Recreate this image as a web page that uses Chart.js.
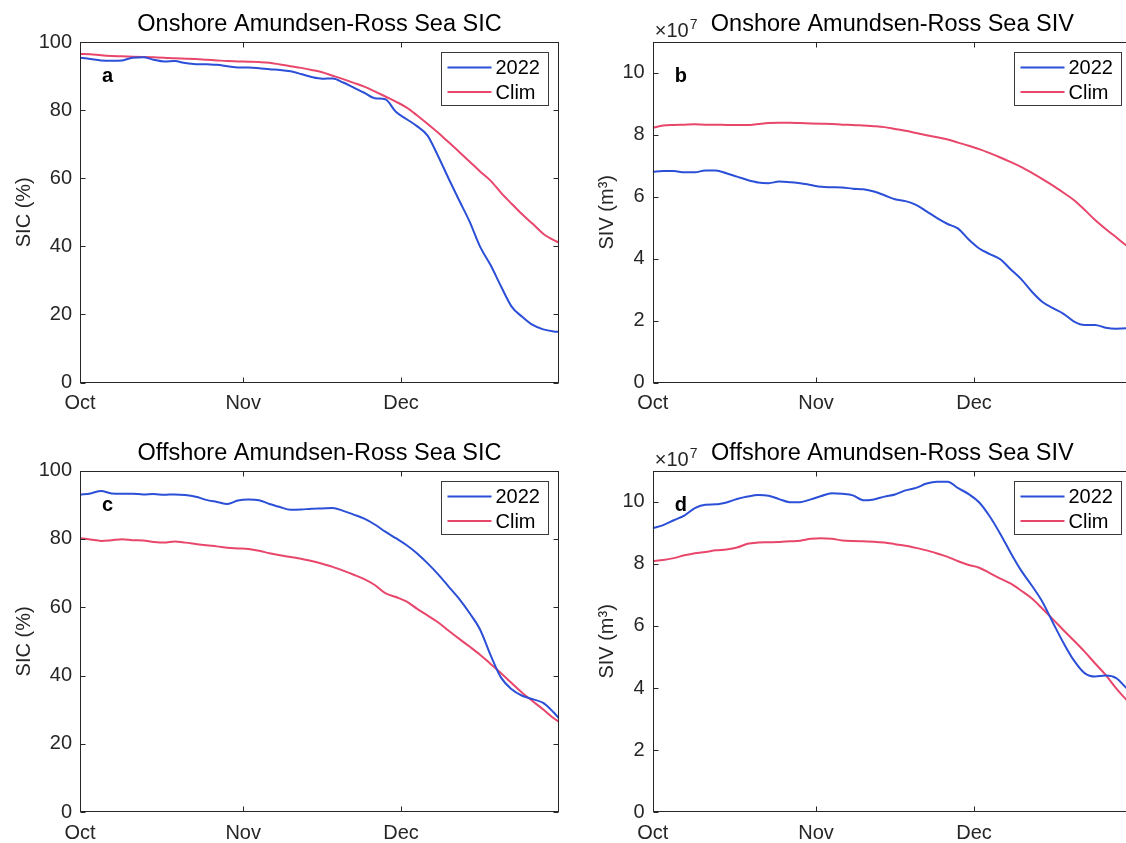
<!DOCTYPE html>
<html>
<head>
<meta charset="utf-8">
<script src="https://cdn.jsdelivr.net/npm/chart.js@4.4.1/dist/chart.umd.min.js"></script>
<style>
  html, body { margin: 0; padding: 0; background: #fff; }
  body { width: 1126px; height: 843px; overflow: hidden; position: relative; }
  canvas { position: absolute; }
</style>
</head>
<body>
<canvas id="panelA" width="570" height="440" style="left:0;top:0"></canvas>
<canvas id="panelB" width="570" height="440" style="left:570px;top:0"></canvas>
<canvas id="panelC" width="570" height="440" style="left:0;top:425px"></canvas>
<canvas id="panelD" width="570" height="440" style="left:570px;top:425px"></canvas>
<script>
// day index from 1 Oct (0) to 31 Dec (91)
const days = [0, 2, 4, 6, 8, 10, 12, 14, 16, 18, 20, 22, 24, 26, 28, 30, 32, 34, 36, 38, 40, 42, 44,
  46, 48, 50, 52, 54, 56, 58, 60, 62, 64, 66, 68, 70, 72, 74, 76, 78, 80, 82, 84, 86, 88, 90, 91];
const monthTicks = [0, 31, 61];
const monthLabels = ['Oct', 'Nov', 'Dec'];
const sicTicks = [0, 20, 40, 60, 80, 100];
const sivTicks = [0, 2, 4, 6, 8, 10];
const seriesNames = ['2022', 'Clim'];

// a: onshore SIC (%)
const onshoreSic2022 = [95.4, 95.0, 94.6, 94.5, 94.6, 95.4, 95.5, 94.8, 94.3, 94.4, 93.8, 93.5, 93.5,
  93.3, 92.9, 92.5, 92.5, 92.3, 92.0, 91.8, 91.4, 90.6, 89.7, 89.2, 89.3, 88.1, 86.6, 85.1, 83.5,
  83.2, 79.5, 77.4, 75.3, 72.6, 66.6, 60.0, 53.6, 47.3, 39.9, 34.5, 28.2, 22.3, 19.3, 16.9, 15.6,
  15.0, 14.9];
const onshoreSicClim = [96.5, 96.4, 96.1, 95.9, 95.8, 95.7, 95.6, 95.5, 95.4, 95.2, 95.1, 95.0, 94.8,
  94.6, 94.4, 94.3, 94.2, 94.1, 93.9, 93.4, 92.9, 92.4, 91.8, 91.1, 90.1, 89.1, 88.0, 86.9, 85.5,
  84.0, 82.5, 80.8, 78.5, 76.0, 73.4, 70.6, 67.8, 64.9, 62.0, 59.3, 55.7, 52.5, 49.4, 46.6, 43.7,
  41.8, 41.1];

// b: onshore SIV (x1e7 m3)
const onshoreSiv2022 = [6.81, 6.83, 6.83, 6.79, 6.79, 6.85, 6.85, 6.76, 6.65, 6.54, 6.46, 6.44, 6.49,
  6.47, 6.44, 6.38, 6.32, 6.31, 6.30, 6.26, 6.24, 6.17, 6.05, 5.92, 5.86, 5.74, 5.53, 5.31, 5.12,
  4.97, 4.62, 4.33, 4.15, 3.98, 3.65, 3.33, 2.93, 2.60, 2.40, 2.22, 1.97, 1.86, 1.86, 1.77, 1.74,
  1.75, 1.72];
const onshoreSivClim = [8.23, 8.30, 8.32, 8.33, 8.34, 8.33, 8.33, 8.32, 8.32, 8.32, 8.35, 8.38, 8.39,
  8.39, 8.38, 8.37, 8.36, 8.35, 8.33, 8.32, 8.30, 8.28, 8.25, 8.19, 8.13, 8.06, 7.99, 7.92, 7.85,
  7.75, 7.65, 7.54, 7.41, 7.27, 7.12, 6.96, 6.77, 6.57, 6.36, 6.13, 5.89, 5.58, 5.25, 4.96, 4.69,
  4.42, 4.33];

// c: offshore SIC (%)
const offshoreSic2022 = [92.9, 93.3, 94.0, 93.3, 93.2, 93.2, 93.0, 93.1, 92.9, 93.0, 92.8, 92.3, 91.4,
  90.8, 90.2, 91.2, 91.5, 91.3, 90.2, 89.3, 88.5, 88.6, 88.8, 88.9, 89.0, 88.2, 87.1, 85.9, 84.2,
  82.1, 80.2, 78.2, 75.8, 72.9, 69.7, 66.1, 62.5, 58.3, 53.5, 46.0, 39.4, 36.0, 34.1, 33.1, 32.0,
  29.2, 27.5];
const offshoreSicClim = [80.2, 79.8, 79.4, 79.6, 79.9, 79.6, 79.5, 79.1, 78.9, 79.2, 78.9, 78.5, 78.1,
  77.8, 77.4, 77.2, 77.0, 76.5, 75.8, 75.2, 74.7, 74.2, 73.5, 72.7, 71.8, 70.7, 69.5, 68.2, 66.5,
  64.1, 63.0, 61.7, 59.6, 57.6, 55.6, 53.2, 50.8, 48.5, 46.1, 43.4, 40.7, 37.8, 35.0, 32.5, 30.1,
  27.5, 26.5];

// d: offshore SIV (x1e7 m3)
const offshoreSiv2022 = [9.14, 9.24, 9.40, 9.55, 9.79, 9.90, 9.91, 9.97, 10.08, 10.16, 10.21, 10.19,
  10.08, 9.98, 9.98, 10.07, 10.18, 10.27, 10.25, 10.20, 10.04, 10.07, 10.16, 10.23, 10.36, 10.44,
  10.58, 10.64, 10.64, 10.43, 10.24, 9.97, 9.52, 8.96, 8.34, 7.77, 7.29, 6.77, 6.10, 5.45, 4.88,
  4.48, 4.37, 4.40, 4.32, 3.99, 3.85];
const offshoreSivClim = [8.09, 8.12, 8.18, 8.27, 8.34, 8.38, 8.43, 8.46, 8.52, 8.64, 8.68, 8.69, 8.70,
  8.72, 8.74, 8.80, 8.82, 8.80, 8.75, 8.73, 8.72, 8.71, 8.68, 8.63, 8.58, 8.51, 8.43, 8.33, 8.22,
  8.08, 7.96, 7.87, 7.70, 7.52, 7.36, 7.13, 6.88, 6.55, 6.21, 5.86, 5.52, 5.17, 4.79, 4.42, 3.99,
  3.61, 3.45];

const blue = '#2b4fd7';
const red = '#e8476b';
const axisColor = '#262626';
const FONT = "'Liberation Sans', Arial, Helvetica, sans-serif";
const labelSize = 20;

Chart.defaults.font.family = FONT;
Chart.defaults.color = axisColor;

function points(vals) {
  return vals.map((v, i) => ({ x: days[i], y: v }));
}

// matlab style box: frame, inward ticks, title, panel letter, exponent, legend
const matlabBox = {
  id: 'matlabBox',
  afterDraw(chart, args, opts) {
    const ctx = chart.ctx;
    const a = chart.chartArea;
    const xs = chart.scales.x;
    const ys = chart.scales.y;
    const L = Math.round(a.left) + 0.5, R = Math.round(a.right) - 0.5;
    const T = Math.round(a.top) + 0.5, B = Math.round(a.bottom) - 0.5;
    const tl = 5;

    ctx.save();
    ctx.strokeStyle = axisColor;
    ctx.lineWidth = 1;
    ctx.strokeRect(L, T, R - L, B - T);

    ctx.beginPath();
    xs.ticks.forEach(t => {
      const px = Math.round(xs.getPixelForValue(t.value)) + 0.5;
      ctx.moveTo(px, B); ctx.lineTo(px, B - tl);
      ctx.moveTo(px, T); ctx.lineTo(px, T + tl);
    });
    ys.ticks.forEach(t => {
      const py = Math.round(ys.getPixelForValue(t.value)) + 0.5;
      ctx.moveTo(L, py); ctx.lineTo(L + tl, py);
      ctx.moveTo(R, py); ctx.lineTo(R - tl, py);
    });
    ctx.stroke();

    // title
    ctx.fillStyle = '#000';
    ctx.font = '23.5px ' + FONT;
    ctx.textAlign = 'center';
    ctx.textBaseline = 'alphabetic';
    ctx.fillText(opts.title, (a.left + a.right) / 2, a.top - 11);

    // panel letter
    ctx.font = 'bold 20px ' + FONT;
    ctx.textAlign = 'left';
    ctx.fillText(opts.letter, a.left + 22, a.top + 40);

    // exponent label
    if (opts.exponent) {
      ctx.fillStyle = axisColor;
      ctx.font = labelSize + 'px ' + FONT;
      ctx.fillText('\u00d710', a.left + 2, a.top - 5);
      const w = ctx.measureText('\u00d710').width;
      ctx.font = '14px ' + FONT;
      ctx.fillText(opts.exponent, a.left + 3 + w, a.top - 13);
    }

    // legend
    const bw = 107, bh = 53;
    const bx = Math.round(a.right - 11 - bw) + 0.5;
    const by = Math.round(a.top + 10) + 0.5;
    ctx.fillStyle = '#fff';
    ctx.fillRect(bx, by, bw, bh);
    ctx.strokeStyle = '#3a3a3a';
    ctx.strokeRect(bx, by, bw, bh);
    ctx.font = labelSize + 'px ' + FONT;
    ctx.textBaseline = 'middle';
    chart.data.datasets.forEach((ds, i) => {
      const yy = by + 15 + i * 24.5;
      ctx.strokeStyle = ds.borderColor;
      ctx.lineWidth = 2;
      ctx.beginPath();
      ctx.moveTo(bx + 6, yy); ctx.lineTo(bx + 50, yy);
      ctx.stroke();
      ctx.fillStyle = '#000';
      ctx.fillText(ds.label, bx + 54, yy + 1);
    });
    ctx.restore();
  }
};

function makePanel(id, cfg) {
  return new Chart(document.getElementById(id), {
    type: 'line',
    data: {
      datasets: [
        { label: seriesNames[0], data: points(cfg.obs), borderColor: blue },
        { label: seriesNames[1], data: points(cfg.clim), borderColor: red }
      ]
    },
    options: {
      responsive: false,
      animation: false,
      devicePixelRatio: 1,
      layout: { padding: cfg.padding },
      elements: {
        point: { radius: 0 },
        line: { borderWidth: 2, cubicInterpolationMode: 'monotone', fill: false }
      },
      plugins: {
        legend: { display: false },
        tooltip: { enabled: false },
        matlabBox: { title: cfg.title, letter: cfg.letter, exponent: cfg.exponent }
      },
      scales: {
        x: {
          type: 'linear',
          min: 0,
          max: 91,
          grid: { display: false, drawTicks: false },
          border: { display: false },
          afterBuildTicks: s => { s.ticks = monthTicks.map(v => ({ value: v })); },
          afterFit: s => { s.height = 40; },
          ticks: {
            autoSkip: false,
            maxRotation: 0,
            padding: 9,
            font: { size: labelSize },
            color: axisColor,
            callback: v => monthLabels[monthTicks.indexOf(v)]
          }
        },
        y: {
          min: 0,
          max: cfg.yMax,
          grid: { display: false, drawTicks: false },
          border: { display: false },
          afterBuildTicks: s => { s.ticks = cfg.yTicks.map(v => ({ value: v })); },
          afterFit: s => { s.width = cfg.yWidth; },
          ticks: { padding: 8, font: { size: labelSize }, color: axisColor },
          title: { display: true, text: cfg.yTitle, font: { size: labelSize }, color: axisColor, padding: 0 }
        }
      }
    },
    plugins: [matlabBox]
  });
}

makePanel('panelA', {
  obs: onshoreSic2022, clim: onshoreSicClim, yMax: 100, yTicks: sicTicks, yTitle: 'SIC (%)',
  title: 'Onshore Amundsen-Ross Sea SIC', letter: 'a',
  yWidth: 68, padding: { left: 12, right: 11, top: 42, bottom: 17.5 }
});
makePanel('panelB', {
  obs: onshoreSiv2022, clim: onshoreSivClim, yMax: 11, yTicks: sivTicks, yTitle: 'SIV (m\u00b3)',
  title: 'Onshore Amundsen-Ross Sea SIV', letter: 'b', exponent: '7',
  yWidth: 57.7, padding: { left: 25, right: 8, top: 42, bottom: 17.5 }
});
makePanel('panelC', {
  obs: offshoreSic2022, clim: offshoreSicClim, yMax: 100, yTicks: sicTicks, yTitle: 'SIC (%)',
  title: 'Offshore Amundsen-Ross Sea SIC', letter: 'c',
  yWidth: 68, padding: { left: 12, right: 11, top: 45.5, bottom: 12.7 }
});
makePanel('panelD', {
  obs: offshoreSiv2022, clim: offshoreSivClim, yMax: 11, yTicks: sivTicks, yTitle: 'SIV (m\u00b3)',
  title: 'Offshore Amundsen-Ross Sea SIV', letter: 'd', exponent: '7',
  yWidth: 57.7, padding: { left: 25, right: 8, top: 45.5, bottom: 12.7 }
});
</script>
</body>
</html>
